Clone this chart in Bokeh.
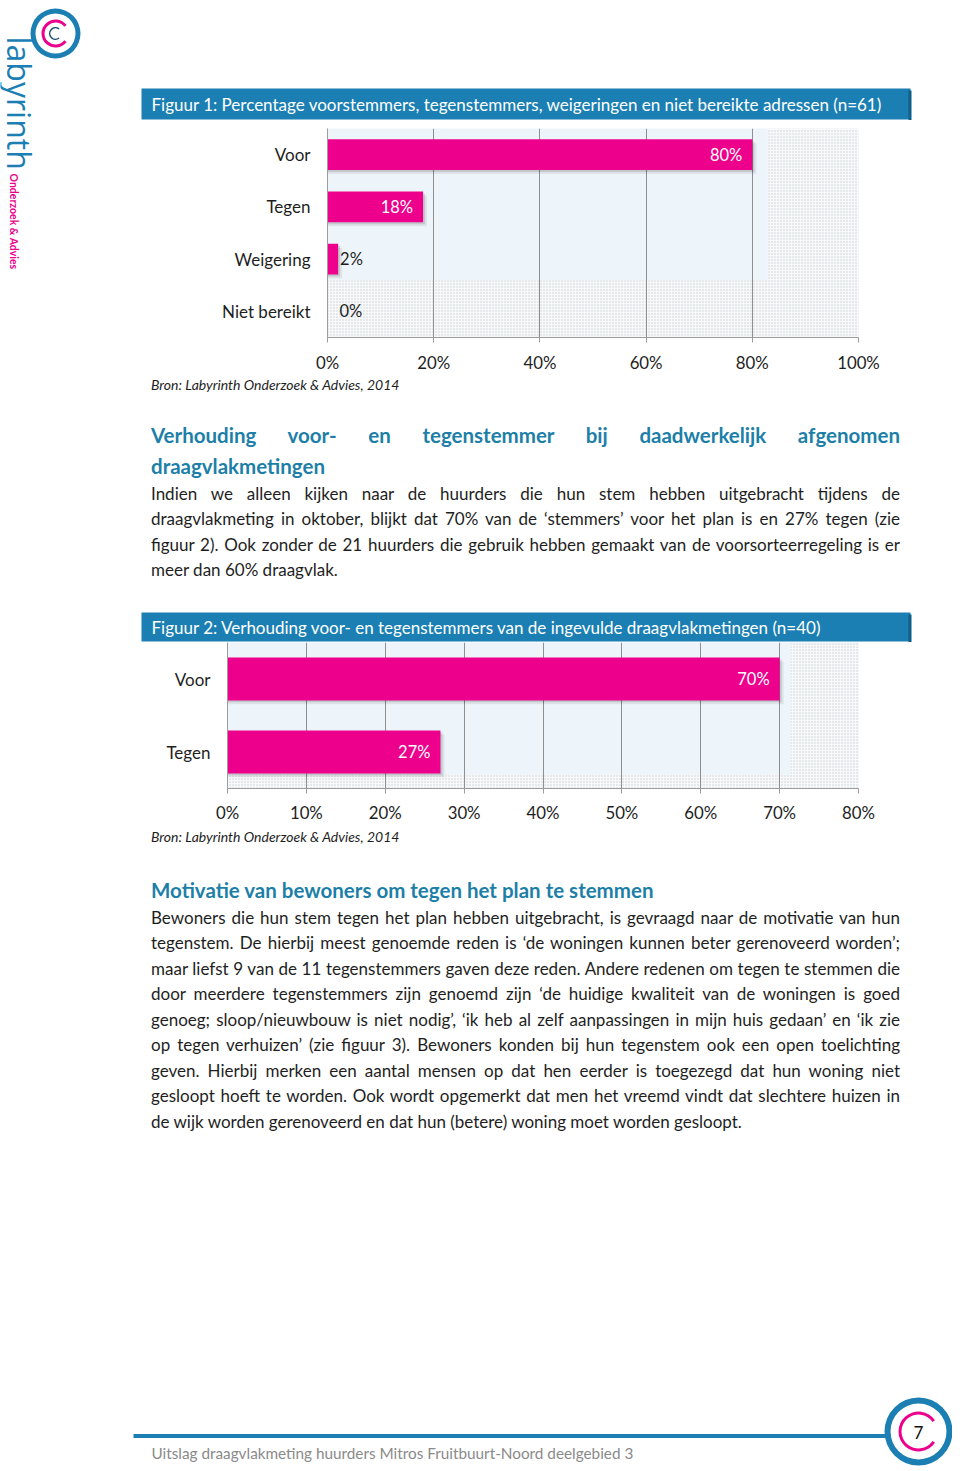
import math
import html as _html
from bokeh.plotting import figure
from bokeh.models import Range1d, FactorRange, Div, ColumnDataSource, PrintfTickFormatter
from bokeh.layouts import column, row
from bokeh.embed import file_html
from bokeh.resources import INLINE
from bokeh.core.properties import value
from bokeh.transform import dodge

# ---------------- data ----------------
fig1_title = "Figuur 1: Percentage voorstemmers, tegenstemmers, weigeringen en niet bereikte adressen (n=61)"
fig1_categories = ["Voor", "Tegen", "Weigering", "Niet bereikt"]
fig1_values = [80, 18, 2, 0]
fig1_ticks = [0, 20, 40, 60, 80, 100]

fig2_title = "Figuur 2: Verhouding voor- en tegenstemmers  van de ingevulde draagvlakmetingen (n=40)"
fig2_categories = ["Voor", "Tegen"]
fig2_values = [70, 27]
fig2_ticks = [0, 10, 20, 30, 40, 50, 60, 70, 80]

source_note = "Bron: Labyrinth Onderzoek & Advies, 2014"

heading1 = ["Verhouding voor- en tegenstemmer bij daadwerkelijk afgenomen", "draagvlakmetingen"]
para1 = [
    "Indien we alleen kijken naar de huurders die hun stem hebben uitgebracht tijdens de",
    "draagvlakmeting in oktober, blijkt dat 70% van de \u2018stemmers\u2019 voor het plan is en 27% tegen (zie",
    "figuur 2). Ook zonder de 21 huurders die gebruik hebben gemaakt van de voorsorteerregeling is er",
    "meer dan 60% draagvlak.",
]
heading2 = "Motivatie van bewoners om tegen het plan te stemmen"
para2 = [
    "Bewoners die hun stem tegen het plan hebben uitgebracht, is gevraagd naar de motivatie van hun",
    "tegenstem. De hierbij meest genoemde reden is \u2018de woningen kunnen beter gerenoveerd worden\u2019;",
    "maar liefst 9 van de 11 tegenstemmers gaven deze reden. Andere redenen om tegen te stemmen die",
    "door meerdere tegenstemmers zijn genoemd zijn \u2018de huidige kwaliteit van de woningen is goed",
    "genoeg; sloop/nieuwbouw is niet nodig\u2019, \u2018ik heb al zelf aanpassingen in mijn huis gedaan\u2019 en \u2018ik zie",
    "op tegen verhuizen\u2019 (zie figuur 3). Bewoners konden bij hun tegenstem ook een open toelichting",
    "geven. Hierbij merken een aantal mensen op dat hen eerder is toegezegd dat hun woning niet",
    "gesloopt hoeft te worden. Ook wordt opgemerkt dat men het vreemd vindt dat slechtere huizen in",
    "de wijk worden gerenoveerd en dat hun (betere) woning moet worden gesloopt.",
]
footer_text = "Uitslag draagvlakmeting huurders Mitros Fruitbuurt-Noord deelgebied 3"
page_number = "7"

# ---------------- styles ----------------
FONT = "Lato"
BLUE = "#1b7fb3"
HEAD = "#1d7fa8"
MAGENTA = "#ec008c"
GRID = "#8f8f8f"
AXIS = "#9c9c9c"
TXT = "#1e1e1e"
PLOTBG = "#eef5fa"

COMMON = dict(toolbar_location=None, output_backend="svg", title=None, frame_align=False)


def page_fig(x0, x1, y0, y1):
    # y axis points upward; page y (downward) is drawn as -y
    p = figure(width=x1 - x0, height=y1 - y0, x_range=Range1d(x0, x1), y_range=Range1d(-y1, -y0),
               x_axis_type=None, y_axis_type=None, min_border=0, outline_line_color=None,
               background_fill_color="white", border_fill_color="white", **COMMON)
    return p


def band_fig(x0, x1, y0, y1, band_top, band_bottom, text):
    p = page_fig(x0, x1, y0, y1)
    p.quad(left=141, right=910, top=-band_top, bottom=-band_bottom, fill_color=BLUE, line_color=None)
    p.quad(left=908, right=911, top=-(band_top + 2), bottom=-(band_bottom + 1), fill_color="#0f5f88",
           line_color=None)
    p.text(x=[151], y=[-(band_top + band_bottom) / 2], text=[text], text_color="white",
           text_font=value(FONT), text_font_size="17px", text_baseline="middle", text_align="left")
    return p


def bar_chart(cats, vals, ticks, width, height, bl, br, bt, bb, strip_x_px, strip_y_px, standoff, bar_px):
    x_end = ticks[-1]
    frame_w = width - bl - br
    frame_h = height - bt - bb
    ppx = frame_w / x_end
    ppy = frame_h / len(cats)
    p = figure(width=width, height=height, x_range=Range1d(0, x_end),
               y_range=FactorRange(factors=list(reversed(cats))),
               min_border_left=bl, min_border_right=br, min_border_top=bt, min_border_bottom=bb,
               outline_line_color=None, background_fill_color=PLOTBG, border_fill_color="white", **COMMON)
    # textured "walls"
    sx = x_end - strip_x_px / ppx
    p.quad(left=sx, right=x_end, bottom=0, top=len(cats), fill_color="#f6f8f9",
           hatch_pattern="dot", hatch_color="#cbd2d6", hatch_scale=3, hatch_weight=1,
           line_color=None, level="image")
    p.quad(left=0, right=x_end, bottom=0, top=strip_y_px / ppy, fill_color="#f6f8f9",
           hatch_pattern="dot", hatch_color="#cbd2d6", hatch_scale=3, hatch_weight=1,
           line_color=None, level="image")

    src = ColumnDataSource(dict(
        cat=cats, val=vals,
        sh1=[v + 4 / ppx if v > 0 else 0 for v in vals],
        sh2=[v + 2 / ppx if v > 0 else 0 for v in vals],
    ))
    bh = bar_px / ppy
    p.hbar(y=dodge("cat", -4 / ppy, range=p.y_range), left=0, right="sh1", height=bh, source=src,
           fill_color="black", fill_alpha=0.07, line_color=None)
    p.hbar(y=dodge("cat", -2 / ppy, range=p.y_range), left=0, right="sh2", height=bh, source=src,
           fill_color="black", fill_alpha=0.12, line_color=None)
    p.hbar(y="cat", left=0, right="val", height=bh, source=src, fill_color=MAGENTA, line_color=None)

    inside = [(c, v) for c, v in zip(cats, vals) if v >= 10]
    outside = [(c, v) for c, v in zip(cats, vals) if v < 10]
    if inside:
        p.text(x=[v for c, v in inside], y=[c for c, v in inside], text=[f"{v}%" for c, v in inside],
               x_offset=-10, text_color="white", text_font=value(FONT), text_font_size="16.5px",
               text_align="right", text_baseline="middle")
    if outside:
        p.text(x=[v for c, v in outside], y=[c for c, v in outside], text=[f"{v}%" for c, v in outside],
               x_offset=[2 if v > 0 else 12 for c, v in outside], text_color=TXT, text_font=value(FONT),
               text_font_size="16.5px", text_align="left", text_baseline="middle")

    p.xaxis.ticker = ticks
    p.xaxis.formatter = PrintfTickFormatter(format="%d%%")
    p.xaxis.major_tick_out = 5
    p.xaxis.major_tick_in = 0
    p.xaxis.minor_tick_out = 0
    p.xaxis.minor_tick_in = 0
    p.xaxis.axis_line_color = AXIS
    p.xaxis.major_tick_line_color = AXIS
    p.xaxis.major_label_standoff = standoff
    p.xaxis.major_label_text_font = FONT
    p.xaxis.major_label_text_font_size = "16.8px"
    p.xaxis.major_label_text_color = TXT

    p.yaxis.major_tick_out = 0
    p.yaxis.major_tick_in = 0
    p.yaxis.axis_line_color = AXIS
    p.yaxis.major_label_standoff = 17
    p.yaxis.major_label_text_font = FONT
    p.yaxis.major_label_text_font_size = "17px"
    p.yaxis.major_label_text_color = TXT

    p.xgrid.grid_line_color = GRID
    p.ygrid.grid_line_color = None
    return p


def line_html(text, top, size, lh, weight="normal", color=TXT, justify=False, italic=False):
    al = "justify" if justify else "left"
    style = (f"position:absolute;left:151px;top:{top}px;width:749px;height:{lh}px;"
             f"line-height:{lh}px;font-size:{size}px;font-weight:{weight};color:{color};"
             f"white-space:nowrap;text-align:{al};text-align-last:{al};"
             f"font-style:{'italic' if italic else 'normal'};")
    return f'<div style="{style}">{_html.escape(text, quote=False)}</div>'


def text_block(h, parts):
    inner = "".join(parts)
    return Div(text=f'<div style="position:relative;width:952px;height:{h}px;'
                    f'font-family:Lato,sans-serif;overflow:hidden;">{inner}</div>',
               width=952, height=h, margin=0)


BODY = 17
HSIZE = 20.5

# ---------------- logo (page x 0..140, y 0..375) ----------------
logo = page_fig(0, 140, 0, 375)
logo.annulus(x=[55], y=[-33], inner_radius=20, outer_radius=25, fill_color=BLUE, line_color=None)
logo.annular_wedge(x=[55], y=[-33], inner_radius=11, outer_radius=14, start_angle=0.65, end_angle=-0.65,
                   direction="anticlock", fill_color=MAGENTA, line_color=None)
logo.annular_wedge(x=[55], y=[-33], inner_radius=5, outer_radius=6.5, start_angle=0.9, end_angle=-0.9,
                   direction="anticlock", fill_color="#1d4f70", line_color=None)
logo.text(x=[19], y=[-36], text=["labyrinth"], angle=-math.pi / 2, text_color=BLUE,
          text_font=value("Open Sans"), text_font_size="32px", text_align="left",
          text_baseline="alphabetic")
logo.text(x=[13.5], y=[-173], text=["Onderzoek & Advies"], angle=-math.pi / 2, text_color=MAGENTA,
          text_font=value(FONT), text_font_size="10.5px", text_font_style="bold",
          text_align="left", text_baseline="alphabetic")

# ---------------- figure 1 ----------------
head1 = band_fig(140, 952, 0, 120, 88, 119, fig1_title)
chart1 = bar_chart(fig1_categories, fig1_values, fig1_ticks, 812, 255, 187, 94, 8, 37,
                   strip_x_px=91, strip_y_px=58, standoff=9, bar_px=31)

# ---------------- text block 1 (y 375..600) ----------------
t1 = [line_html(source_note, 0, 14, 20, italic=True)]
t1.append(line_html(heading1[0], 46, HSIZE, 28, weight="bold", color=HEAD, justify=True))
t1.append(line_html(heading1[1], 77, HSIZE, 28, weight="bold", color=HEAD))
for i, ln in enumerate(para1):
    t1.append(line_html(ln, 105.5 + i * 25.5, BODY, 25.5, justify=(i < len(para1) - 1)))
text1 = text_block(225, t1)

# ---------------- figure 2 ----------------
head2 = band_fig(0, 952, 600, 642, 612, 641, fig2_title)
chart2 = bar_chart(fig2_categories, fig2_values, fig2_ticks, 952, 183, 227, 94, 0, 33,
                   strip_x_px=68, strip_y_px=14, standoff=8, bar_px=44)

# ---------------- text block 2 (y 825..1380) ----------------
t2 = [line_html(source_note, 2, 14, 20, italic=True)]
t2.append(line_html(heading2, 51, HSIZE, 28, weight="bold", color=HEAD))
for i, ln in enumerate(para2):
    t2.append(line_html(ln, 79.5 + i * 25.5, BODY, 25.5, justify=(i < len(para2) - 1)))
text2 = text_block(555, t2)

# ---------------- footer (y 1380..1471) ----------------
foot = page_fig(0, 952, 1380, 1471)
foot.segment(x0=[133], y0=[-1435.5], x1=[890], y1=[-1435.5], line_color=BLUE, line_width=4)
foot.annulus(x=[918], y=[-1431], inner_radius=28, outer_radius=34, fill_color=BLUE, line_color=None)
foot.annular_wedge(x=[918], y=[-1431], inner_radius=17, outer_radius=20, start_angle=0.6, end_angle=-0.6,
                   direction="anticlock", fill_color=MAGENTA, line_color=None)
foot.text(x=[918], y=[-1432], text=[page_number], text_color="#111111", text_font=value(FONT),
          text_font_size="17px", text_align="center", text_baseline="middle")
foot.text(x=[151], y=[-1452], text=[footer_text], text_color="#8a8a8a", text_font=value(FONT),
          text_font_size="15.3px", text_align="left", text_baseline="middle")

layout = column(
    row(logo, column(head1, chart1, spacing=0), spacing=0),
    text1, head2, chart2, text2, foot,
    spacing=0,
)

open("out.html", "w").write(file_html(layout, INLINE, title="Uitslag draagvlakmeting"))
